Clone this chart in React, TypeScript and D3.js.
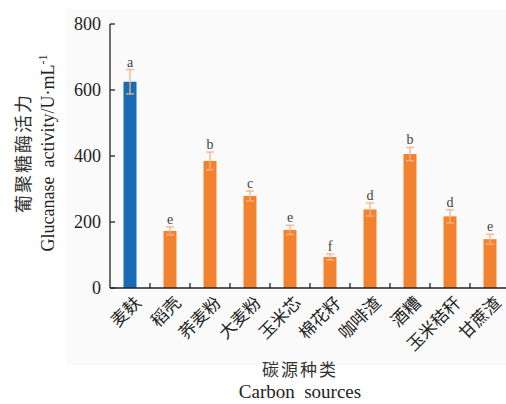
import React, { useEffect, useRef } from 'react'
import * as d3 from 'd3'

const categories = ['麦麸', '稻壳', '荞麦粉', '大麦粉', '玉米芯', '棉花籽', '咖啡渣', '酒糟', '玉米秸秆', '甘蔗渣']
const values = [625, 173, 385, 279, 176, 94, 238, 406, 217, 148]
const errors = [37, 12, 27, 15, 14, 9, 20, 20, 20, 15]
const letters = ['a', 'e', 'b', 'c', 'e', 'f', 'd', 'b', 'd', 'e']
const yTicks = [0, 200, 400, 600, 800]

const serif = '"Liberation Serif", "DejaVu Serif", serif'
const cjk = '"Noto Sans CJK SC", sans-serif'

const App = () => {
  const ref = useRef<SVGSVGElement>(null)

  useEffect(() => {
    const svg = d3.select(ref.current)
    svg.selectAll('*').remove()

    const left = 110
    const right = 510
    const top = 24
    const bottom = 288

    // faint panel behind the chart
    svg.append('rect')
      .attr('x', 66).attr('y', 9)
      .attr('width', 440).attr('height', 356)
      .attr('fill', '#fafafa')

    const x = d3.scaleBand().domain(categories).range([left, right])
    const y = d3.scaleLinear().domain([0, 800]).range([bottom, top])

    const barW = 13

    svg.selectAll('rect.bar')
      .data(values)
      .enter()
      .append('rect')
      .attr('class', 'bar')
      .attr('x', (d, i) => x(categories[i])! + x.bandwidth() / 2 - barW / 2)
      .attr('y', d => y(d))
      .attr('width', barW)
      .attr('height', d => bottom - y(d))
      .attr('fill', (d, i) => (i === 0 ? '#1a6bb5' : '#f3822f'))

    // error bars + significance letters
    const eb = svg.append('g').attr('stroke', '#f5b38a').attr('stroke-width', 1.3)
    values.forEach((v, i) => {
      const cx = x(categories[i])! + x.bandwidth() / 2
      const hi = y(v + errors[i])
      const lo = y(v - errors[i])
      eb.append('line').attr('x1', cx).attr('x2', cx).attr('y1', hi).attr('y2', lo)
      eb.append('line').attr('x1', cx - 4).attr('x2', cx + 4).attr('y1', hi).attr('y2', hi)
      eb.append('line').attr('x1', cx - 4).attr('x2', cx + 4).attr('y1', lo).attr('y2', lo)
      svg.append('text')
        .attr('x', cx).attr('y', hi - 3)
        .attr('text-anchor', 'middle')
        .attr('font-family', serif).attr('font-size', 14)
        .attr('fill', '#444')
        .text(letters[i])
    })

    // axes
    const axisColor = '#222'
    svg.append('line')
      .attr('x1', left).attr('x2', left).attr('y1', top).attr('y2', bottom)
      .attr('stroke', axisColor).attr('stroke-width', 1.3)
    svg.append('line')
      .attr('x1', left).attr('x2', right).attr('y1', bottom).attr('y2', bottom)
      .attr('stroke', axisColor).attr('stroke-width', 1.3)

    yTicks.forEach(t => {
      svg.append('line')
        .attr('x1', left).attr('x2', left + 5).attr('y1', y(t)).attr('y2', y(t))
        .attr('stroke', axisColor).attr('stroke-width', 1.3)
      svg.append('text')
        .attr('x', left - 9).attr('y', y(t))
        .attr('dy', '0.35em')
        .attr('text-anchor', 'end')
        .attr('font-family', serif).attr('font-size', 18)
        .attr('fill', '#222')
        .text(t)
    })

    categories.forEach((c, i) => {
      if (i > 0) {
        const bx = x(c)!
        svg.append('line')
          .attr('x1', bx).attr('x2', bx).attr('y1', bottom).attr('y2', bottom - 5)
          .attr('stroke', axisColor).attr('stroke-width', 1.3)
      }
      const cx = x(c)! + x.bandwidth() / 2
      svg.append('text')
        .attr('transform', `translate(${cx + 3},${bottom + 7}) rotate(-45)`)
        .attr('text-anchor', 'end')
        .attr('dy', '0.75em')
        .attr('font-family', cjk).attr('font-size', 17)
        .attr('fill', '#222')
        .text(c)
    })

    // y title
    const yt = svg.append('g').attr('transform', 'translate(0,153) rotate(-90)')
    yt.append('text')
      .attr('x', 0).attr('y', 30)
      .attr('text-anchor', 'middle')
      .attr('font-family', cjk).attr('font-size', 18)
      .attr('letter-spacing', 2)
      .attr('fill', '#333')
      .text('葡聚糖酶活力')
    const en = yt.append('text')
      .attr('x', 0).attr('y', 54)
      .attr('text-anchor', 'middle')
      .attr('font-family', serif).attr('font-size', 18)
      .attr('fill', '#222')
      .attr('xml:space', 'preserve')
    en.append('tspan').text('Glucanase  activity/U·mL')
    en.append('tspan').attr('dy', -7).attr('font-size', 12).text('-1')

    // x title
    svg.append('text')
      .attr('x', 300).attr('y', 376)
      .attr('text-anchor', 'middle')
      .attr('font-family', cjk).attr('font-size', 17)
      .attr('letter-spacing', 2)
      .attr('fill', '#333')
      .text('碳源种类')
    svg.append('text')
      .attr('x', 300).attr('y', 398)
      .attr('text-anchor', 'middle')
      .attr('font-family', serif).attr('font-size', 19)
      .attr('fill', '#222')
      .attr('xml:space', 'preserve')
      .text('Carbon  sources')
  }, [])

  return (
    <svg
      ref={ref}
      width={506}
      height={404}
      style={{ position: 'absolute', left: 0, top: 0, background: '#fff' }}
    />
  )
}

export default App
